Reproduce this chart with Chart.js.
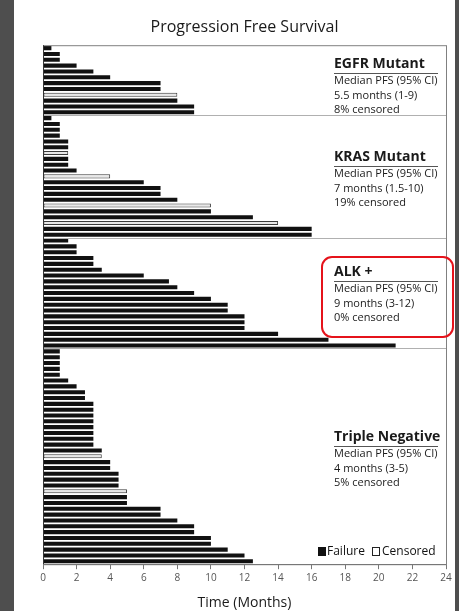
<!DOCTYPE html>
<html>
<head>
<meta charset="utf-8">
<script src="https://cdn.jsdelivr.net/npm/chart.js@4/dist/chart.umd.min.js"></script>
<style>
  html, body { margin: 0; padding: 0; background: #4e4e4e; }
  canvas { display: block; }
</style>
</head>
<body>
<canvas id="pfsChart" width="459" height="611"></canvas>
<script>
// months to progression, one bar per patient, top to bottom
const egfrMonths = [0.5, 1, 1, 2, 3, 4, 7, 7, 8, 8, 9, 9];
const egfrCensored = [0, 0, 0, 0, 0, 0, 0, 0, 1, 0, 0, 0];

const krasMonths = [0.5, 1, 1, 1, 1.5, 1.5, 1.5, 1.5, 1.5, 2, 4, 6, 7, 7, 8, 10, 10, 12.5, 14, 16, 16];
const krasCensored = [0, 0, 0, 0, 0, 0, 1, 0, 0, 0, 1, 0, 0, 0, 0, 1, 0, 0, 1, 0, 0];

const alkMonths = [1.5, 2, 2, 3, 3, 3.5, 6, 7.5, 8, 9, 10, 11, 11, 12, 12, 12, 14, 17, 21];
const alkCensored = [0, 0, 0, 0, 0, 0, 0, 0, 0, 0, 0, 0, 0, 0, 0, 0, 0, 0, 0];

const tripleNegMonths = [1, 1, 1, 1, 1, 1.5, 2, 2.5, 2.5, 3, 3, 3, 3, 3, 3, 3, 3, 3.5, 3.5, 4, 4,
  4.5, 4.5, 4.5, 5, 5, 5, 7, 7, 8, 9, 9, 10, 10, 11, 12, 12.5];
const tripleNegCensored = [0, 0, 0, 0, 0, 0, 0, 0, 0, 0, 0, 0, 0, 0, 0, 0, 0, 0, 1, 0, 0,
  0, 0, 0, 1, 0, 0, 0, 0, 0, 0, 0, 0, 0, 0, 0, 0];

const groupTitles = ['EGFR Mutant', 'KRAS Mutant', 'ALK +', 'Triple Negative'];
const groupNotes = [
  ['Median PFS (95% CI)', '5.5 months (1-9)', '8% censored'],
  ['Median PFS (95% CI)', '7 months (1.5-10)', '19% censored'],
  ['Median PFS (95% CI)', '9 months (3-12)', '0% censored'],
  ['Median PFS (95% CI)', '4 months (3-5)', '5% censored']
];
const xTicks = [0, 2, 4, 6, 8, 10, 12, 14, 16, 18, 20, 22, 24];

const groups = [
  [egfrMonths, egfrCensored],
  [krasMonths, krasCensored],
  [alkMonths, alkCensored],
  [tripleNegMonths, tripleNegCensored]
];

let rows = [], failData = [], censData = [], groupEnds = [];
groups.forEach(function (g) {
  g[0].forEach(function (m, i) {
    rows.push('p' + rows.length);
    failData.push(g[1][i] ? null : m);
    censData.push(g[1][i] ? m : null);
  });
  groupEnds.push(rows.length - 1);
});

const FONT = '"Open Sans", "DejaVu Sans", sans-serif';

// page backdrop, frame, separators, notes, legend
const decor = {
  id: 'decor',
  beforeDraw(chart) {
    const c = chart.ctx;
    c.save();
    c.fillStyle = '#4e4e4e';
    c.fillRect(0, 0, chart.width, chart.height);
    c.fillStyle = '#ffffff';
    c.fillRect(14, 0, 441, chart.height);
    c.restore();
  },
  afterDatasetsDraw(chart) {
    const c = chart.ctx, a = chart.chartArea, y = chart.scales.y;
    c.save();
    // group separators
    c.strokeStyle = '#b0b0b0';
    c.lineWidth = 1;
    groupEnds.slice(0, 3).forEach(function (e) {
      const py = Math.round((y.getPixelForValue(e) + y.getPixelForValue(e + 1)) / 2) + 0.5;
      c.beginPath(); c.moveTo(a.left, py); c.lineTo(a.right, py); c.stroke();
    });
    // frame
    c.strokeStyle = '#808080';
    c.strokeRect(a.left + 0.5, a.top + 0.5, a.right - a.left, a.bottom - a.top);
    c.strokeStyle = '#333';
    c.beginPath(); c.moveTo(a.left + 0.5, a.top); c.lineTo(a.left + 0.5, a.bottom); c.stroke();

    // notes
    const tx = 334;
    const titleY = [64, 157, 272, 437];
    c.fillStyle = '#1a1a1a';
    c.textBaseline = 'middle';
    groupTitles.forEach(function (t, i) {
      c.font = 'bold 14px ' + FONT;
      c.fillText(t, tx, titleY[i]);
      c.strokeStyle = '#555';
      c.beginPath(); c.moveTo(tx, titleY[i] + 9.5); c.lineTo(438, titleY[i] + 9.5); c.stroke();
      c.font = '11px ' + FONT;
      groupNotes[i].forEach(function (n, k) {
        c.fillText(n, tx, titleY[i] + 17 + k * 14.5);
      });
    });

    // red highlight round ALK
    c.strokeStyle = '#e5131b';
    c.lineWidth = 2;
    c.beginPath();
    c.roundRect(322, 257, 131, 80, 10);
    c.stroke();

    // legend
    c.lineWidth = 1;
    c.font = '12px ' + FONT;
    c.fillStyle = '#111';
    c.fillRect(318, 547, 8, 9);
    c.fillText('Failure', 327, 551.5);
    c.strokeStyle = '#222';
    c.strokeRect(372.5, 547.5, 7, 8);
    c.fillText('Censored', 382, 551.5);
    c.restore();
  }
};

new Chart(document.getElementById('pfsChart'), {
  type: 'bar',
  data: {
    labels: rows,
    datasets: [{
      label: 'Failure',
      data: failData,
      backgroundColor: '#111111',
      borderWidth: 0,
      grouped: false,
      barPercentage: 0.7,
      categoryPercentage: 1
    }, {
      label: 'Censored',
      data: censData,
      backgroundColor: '#e8e8e8',
      borderColor: '#3a3a3a',
      borderWidth: 1,
      borderSkipped: false,
      grouped: false,
      barPercentage: 0.7,
      categoryPercentage: 1
    }]
  },
  options: {
    indexAxis: 'y',
    responsive: false,
    animation: false,
    layout: { padding: { left: 43, right: 13, top: 0, bottom: 0 } },
    plugins: {
      legend: { display: false },
      tooltip: { enabled: false },
      title: {
        display: true,
        text: 'Progression Free Survival',
        color: '#1a1a1a',
        font: { family: FONT, size: 16, weight: 'normal' },
        padding: { top: 18, bottom: 8 }
      }
    },
    scales: {
      y: { display: false },
      x: {
        min: 0,
        max: 24,
        afterBuildTicks: function (axis) {
          axis.ticks = xTicks.map(function (v) { return { value: v }; });
        },
        border: { color: '#555' },
        grid: { drawOnChartArea: false, drawTicks: true, tickLength: 5, color: '#777' },
        ticks: { color: '#555', padding: 3, font: { family: FONT, size: 10 } },
        title: {
          display: true,
          text: 'Time (Months)',
          color: '#1a1a1a',
          font: { family: FONT, size: 14 },
          padding: { top: 7, bottom: 0 }
        }
      }
    }
  },
  plugins: [decor]
});
</script>
</body>
</html>
